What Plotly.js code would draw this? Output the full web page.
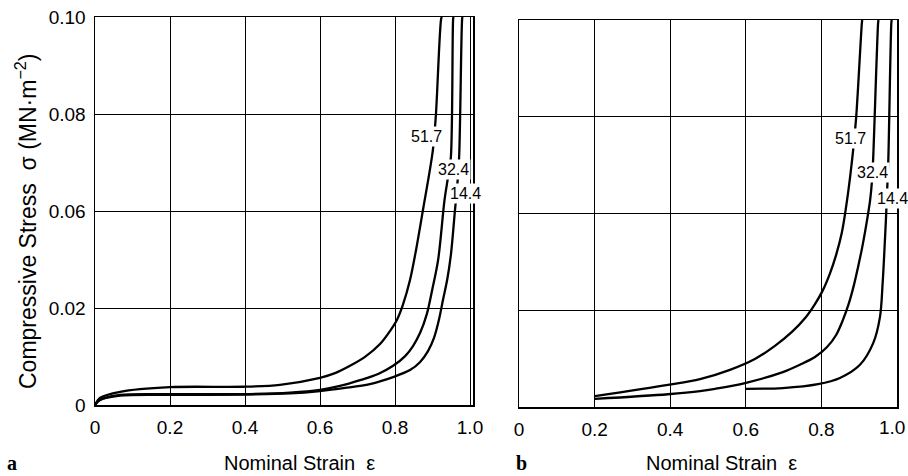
<!DOCTYPE html>
<html>
<head>
<meta charset="utf-8">
<script src="https://cdn.plot.ly/plotly-3.0.1.min.js"></script>
<style>html,body{margin:0;padding:0;background:#fff}#chart{width:908px;height:476px}</style>
</head>
<body>
<div id="chart"></div>
<script>
// Panel a
var strainA517 = [0, 0.013, 0.067, 0.2, 0.395, 0.493, 0.6, 0.64, 0.68, 0.72, 0.76, 0.787, 0.805, 0.821, 0.84, 0.856, 0.875, 0.901, 0.909, 0.923, 0.925];
var stressA517 = [0, 0.0018, 0.0034, 0.0046, 0.0047, 0.0052, 0.0070, 0.0082, 0.0101, 0.0124, 0.0157, 0.0191, 0.0219, 0.0258, 0.0322, 0.0399, 0.0505, 0.0657, 0.0747, 0.0995, 0.1];
var strainA324 = [0, 0.013, 0.067, 0.2, 0.395, 0.52, 0.6, 0.653, 0.707, 0.755, 0.795, 0.827, 0.848, 0.867, 0.885, 0.899, 0.915, 0.932, 0.941, 0.949, 0.955, 0.956];
var stressA324 = [0, 0.0013, 0.0026, 0.0028, 0.0028, 0.0032, 0.0039, 0.0049, 0.0064, 0.0080, 0.0101, 0.0126, 0.0152, 0.0186, 0.0235, 0.0296, 0.0374, 0.0528, 0.0585, 0.0639, 0.0995, 0.1];
var strainA144 = [0, 0.013, 0.067, 0.2, 0.395, 0.52, 0.6, 0.667, 0.733, 0.795, 0.84, 0.867, 0.888, 0.904, 0.917, 0.928, 0.939, 0.949, 0.96, 0.965, 0.971, 0.979, 0.98];
var stressA144 = [0, 0.0013, 0.0024, 0.0026, 0.0027, 0.0030, 0.0036, 0.0044, 0.0054, 0.0072, 0.0090, 0.0111, 0.0139, 0.0173, 0.0219, 0.0271, 0.0322, 0.0387, 0.0503, 0.0554, 0.0639, 0.0995, 0.1];
// Panel b
var strainB517 = [0.201, 0.394, 0.479, 0.558, 0.624, 0.677, 0.722, 0.757, 0.783, 0.804, 0.823, 0.839, 0.854, 0.868, 0.884, 0.892, 0.907, 0.908];
var stressB517 = [0.0028, 0.0057, 0.0072, 0.0096, 0.0124, 0.0158, 0.0194, 0.0230, 0.0266, 0.0302, 0.0346, 0.0393, 0.0450, 0.0535, 0.0664, 0.0749, 0.0992, 0.1];
var strainB324 = [0.201, 0.394, 0.479, 0.519, 0.598, 0.698, 0.743, 0.783, 0.815, 0.839, 0.857, 0.873, 0.886, 0.897, 0.907, 0.915, 0.923, 0.929, 0.934, 0.937, 0.950, 0.951];
var stressB324 = [0.0021, 0.0033, 0.0041, 0.0047, 0.0062, 0.0090, 0.0109, 0.0129, 0.0155, 0.0186, 0.0225, 0.0269, 0.0315, 0.0362, 0.0408, 0.0450, 0.0496, 0.0535, 0.0587, 0.0643, 0.0992, 0.1];
var strainB144 = [0.6, 0.698, 0.791, 0.849, 0.902, 0.937, 0.955, 0.962, 0.969, 0.973, 0.977, 0.985, 0.986];
var stressB144 = [0.0047, 0.0049, 0.0059, 0.0075, 0.0109, 0.0165, 0.0233, 0.0320, 0.0450, 0.0535, 0.0638, 0.0992, 0.1];

var curveLabels = ['51.7', '32.4', '14.4'];
var xTickVals = [0, 0.2, 0.4, 0.6, 0.8, 1.0];
var xTickText = ['0', '0.2', '0.4', '0.6', '0.8', '1.0'];
var yTickVals = [0, 0.025, 0.05, 0.075, 0.1];
var yTickText = ['0', '0.02', '0.06', '0.08', '0.10'];

var FONT = 'Liberation Sans, Arial, Helvetica, sans-serif';
var SERIF = 'Liberation Serif, Times New Roman, serif';
var lineStyle = {color: '#000', width: 2.3, shape: 'spline', smoothing: 0.9};

function tr(x, y, xa, ya) {
  return {x: x, y: y, xaxis: xa, yaxis: ya, type: 'scatter', mode: 'lines', line: lineStyle, hoverinfo: 'skip', showlegend: false};
}
var data = [
  tr(strainA517, stressA517, 'x', 'y'),
  tr(strainA324, stressA324, 'x', 'y'),
  tr(strainA144, stressA144, 'x', 'y'),
  tr(strainB517, stressB517, 'x2', 'y2'),
  tr(strainB324, stressB324, 'x2', 'y2'),
  tr(strainB144, stressB144, 'x2', 'y2')
];

function xax(domain, range, anchor, nTicks) {
  return {domain: domain, range: range, anchor: anchor, tickmode: 'array',
    tickvals: xTickVals.slice(0, nTicks), ticktext: xTickText.slice(0, nTicks),
    showgrid: true, gridcolor: '#000', gridwidth: 1, zeroline: false, showline: true, mirror: true,
    linecolor: '#000', linewidth: 1.5, ticks: '', ticklabelstandoff: 5, tickfont: {family: FONT, size: 19, color: '#000'}};
}
function yax(domain, anchor, showLabels) {
  return {domain: domain, range: [0, 0.1], anchor: anchor, tickmode: 'array', tickvals: yTickVals, ticktext: yTickText,
    showticklabels: showLabels, showgrid: true, gridcolor: '#000', gridwidth: 1, zeroline: false, showline: true, mirror: true,
    linecolor: '#000', linewidth: 1.5, ticks: '', ticklabelstandoff: 4, tickfont: {family: FONT, size: 19, color: '#000'}};
}

var labelPosA = [[0.883, 0.0691], [0.957, 0.0606], [0.987, 0.0546]];
var labelPosB = [[0.878, 0.0695], [0.934, 0.0607], [0.987, 0.0540]];
var annotations = [];
curveLabels.forEach(function (t, i) {
  annotations.push({text: t, x: labelPosA[i][0], y: labelPosA[i][1], xref: 'x', yref: 'y', showarrow: false,
    xanchor: 'center', yanchor: 'middle', bgcolor: '#fff', borderpad: 1, font: {family: FONT, size: 16, color: '#000'}});
  annotations.push({text: t, x: labelPosB[i][0], y: labelPosB[i][1], xref: 'x2', yref: 'y2', showarrow: false,
    xanchor: 'center', yanchor: 'middle', bgcolor: '#fff', borderpad: 1, font: {family: FONT, size: 16, color: '#000'}});
});
// last x tick label of panel b (kept inside the page)
annotations.push({text: xTickText[5], x: 907 / 908, y: 1 - 427 / 476, xref: 'paper', yref: 'paper', showarrow: false,
  xanchor: 'right', yanchor: 'middle', font: {family: FONT, size: 19, color: '#000'}});
annotations.push({text: 'Nominal Strain&nbsp;&nbsp;ε', x: 299 / 908, y: 1 - 463 / 476, xref: 'paper', yref: 'paper',
  showarrow: false, xanchor: 'center', yanchor: 'middle', font: {family: FONT, size: 20, color: '#000'}});
annotations.push({text: 'Nominal Strain&nbsp;&nbsp;ε', x: 721 / 908, y: 1 - 463 / 476, xref: 'paper', yref: 'paper',
  showarrow: false, xanchor: 'center', yanchor: 'middle', font: {family: FONT, size: 20, color: '#000'}});
annotations.push({text: 'Compressive Stress&nbsp;&nbsp;σ (MN·m<sup>−2</sup>)', x: 26 / 908, y: 1 - 222 / 476,
  xref: 'paper', yref: 'paper', showarrow: false, xanchor: 'center', yanchor: 'middle', textangle: -90,
  font: {family: FONT, size: 23, color: '#000'}});
annotations.push({text: '<b>a</b>', x: 12 / 908, y: 1 - 463 / 476, xref: 'paper', yref: 'paper', showarrow: false,
  xanchor: 'center', yanchor: 'middle', font: {family: SERIF, size: 20, color: '#000'}});
annotations.push({text: '<b>b</b>', x: 521 / 908, y: 1 - 463 / 476, xref: 'paper', yref: 'paper', showarrow: false,
  xanchor: 'center', yanchor: 'middle', font: {family: SERIF, size: 20, color: '#000'}});

var layout = {
  width: 908, height: 476,
  margin: {l: 0, r: 0, t: 0, b: 0},
  paper_bgcolor: '#fff', plot_bgcolor: '#fff',
  showlegend: false,
  font: {family: FONT, color: '#000'},
  xaxis: xax([95 / 908, 473 / 908], [0, 1.008], 'y', 6),
  yaxis: yax([1 - 405 / 476, 1 - 17 / 476], 'x', true),
  xaxis2: xax([519 / 908, 897 / 908], [0, 1.0], 'y2', 5),
  yaxis2: yax([1 - 407 / 476, 1 - 20 / 476], 'x2', false),
  annotations: annotations
};
Plotly.newPlot('chart', data, layout, {staticPlot: true, displayModeBar: false});
</script>
</body>
</html>
